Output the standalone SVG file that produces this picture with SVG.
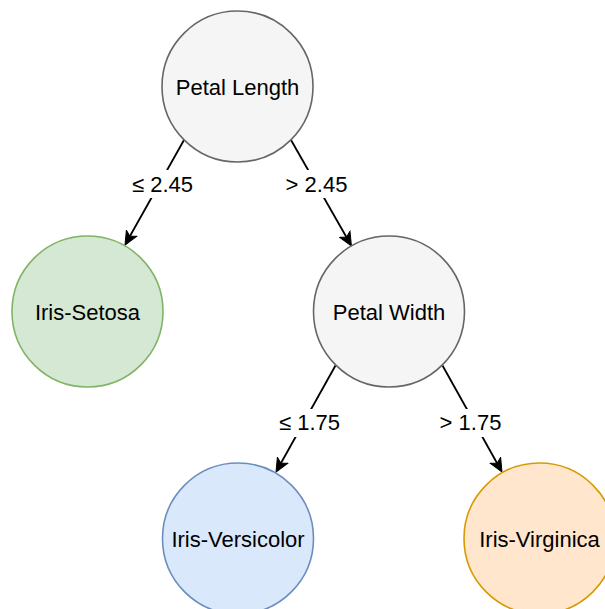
<svg xmlns="http://www.w3.org/2000/svg" width="605" height="609" viewBox="0 0 605 609">
  <style>
    .node { stroke-width: 1.6; }
    .gray { fill: #f5f5f5; stroke: #666666; }
    .green { fill: #d5e8d4; stroke: #82b366; }
    .blue { fill: #dae8fc; stroke: #6c8ebf; }
    .orange { fill: #ffe6cc; stroke: #d79b00; }
    text { font-family: "Liberation Sans", Arial, Helvetica, sans-serif; font-size: 22px; fill: #000000; text-anchor: middle; }
    .edge { fill: none; stroke: #000000; stroke-width: 1.8; marker-end: url(#arrow); }
    .lblbg { fill: #ffffff; }
  </style>
  <defs>
    <marker id="arrow" markerUnits="userSpaceOnUse" viewBox="-14 -7 15 14" markerWidth="15" markerHeight="14" refX="-10" refY="0" orient="auto">
      <path d="M0,0 L-13.5,-6 L-10,0 L-13.5,6 Z" fill="#000000" stroke="#000000" stroke-width="1"/>
    </marker>
  </defs>

  <rect width="605" height="609" fill="#ffffff"/>

  <g id="connectors">
    <path class="edge" d="M184,140 L129.9,236.3"/>
    <path class="edge" d="M291,140 L346.5,237.3"/>
    <path class="edge" d="M335.5,365.5 L280.9,463.3"/>
    <path class="edge" d="M442.5,365.5 L497.1,463.3"/>
    <g id="edge-labels">
      <rect class="lblbg" x="131" y="170" width="64" height="28"/>
      <text x="162.5" y="191.5">≤ 2.45</text>
      <rect class="lblbg" x="284" y="170" width="66" height="28"/>
      <text x="316.5" y="191.5">&gt; 2.45</text>
      <rect class="lblbg" x="278" y="409" width="64" height="28"/>
      <text x="309.5" y="430">≤ 1.75</text>
      <rect class="lblbg" x="438" y="409" width="66" height="28"/>
      <text x="470.5" y="430">&gt; 1.75</text>
    </g>
  </g>

  <g id="petal-length">
    <circle class="node gray" cx="237.5" cy="86.5" r="75.5"/>
    <text x="237.5" y="94.5">Petal Length</text>
  </g>

  <g id="iris-setosa">
    <circle class="node green" cx="87.5" cy="311.5" r="75.5"/>
    <text x="87.5" y="319.5">Iris-Setosa</text>
  </g>

  <g id="petal-width">
    <circle class="node gray" cx="389" cy="311.5" r="75.5"/>
    <text x="389" y="319.5">Petal Width</text>
  </g>

  <g id="iris-versicolor">
    <circle class="node blue" cx="238" cy="538.5" r="75.5"/>
    <text x="238" y="546.5">Iris-Versicolor</text>
  </g>

  <g id="iris-virginica">
    <circle class="node orange" cx="539.5" cy="538.5" r="75.5"/>
    <text x="539.5" y="546.5">Iris-Virginica</text>
  </g>
</svg>
